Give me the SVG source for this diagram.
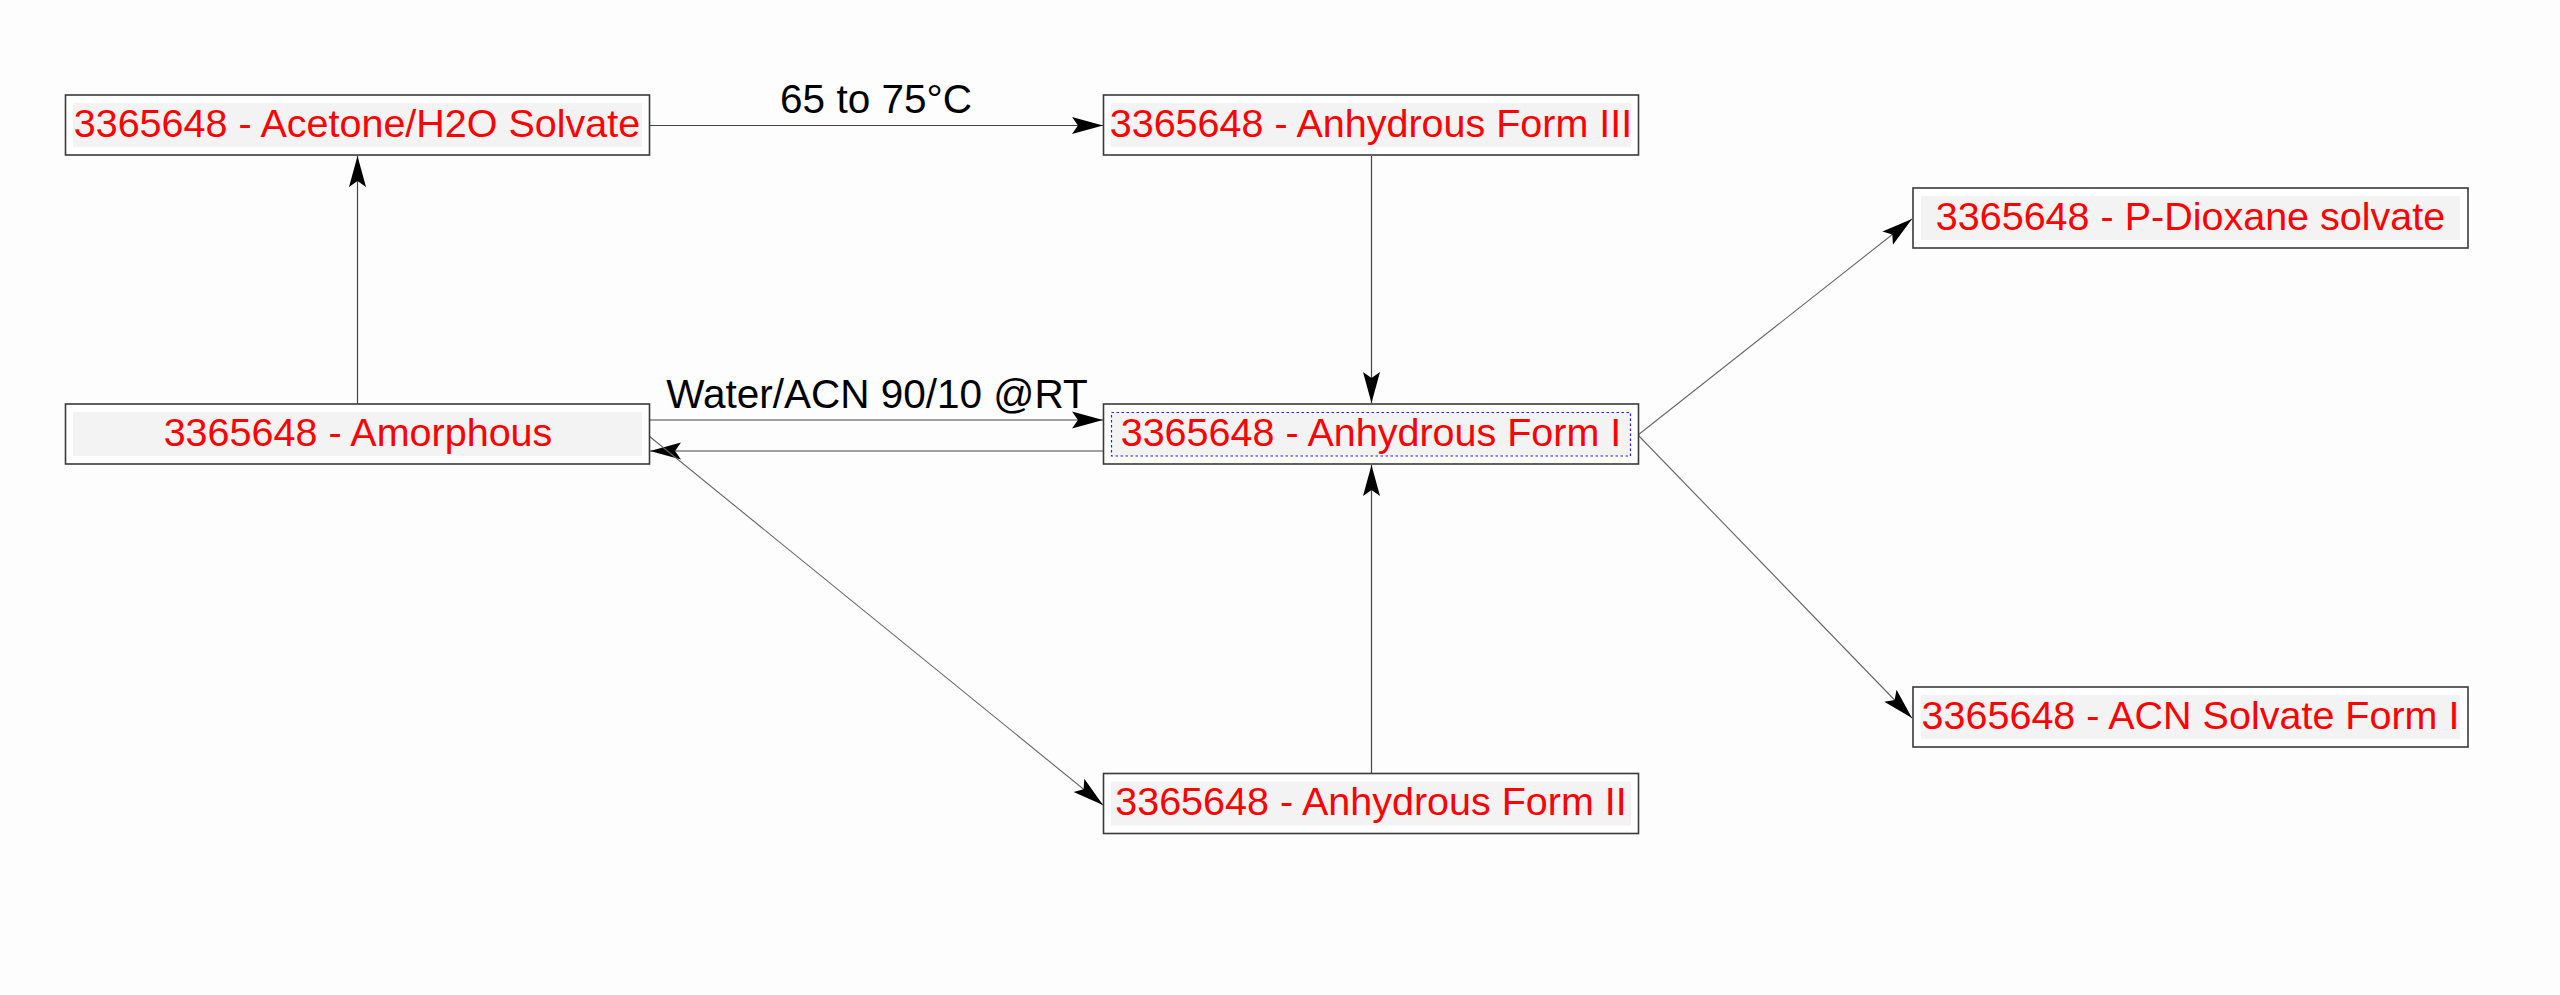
<svg xmlns="http://www.w3.org/2000/svg" width="2560" height="995" viewBox="0 0 2560 995">
<style>
.box{fill:#ffffff;stroke:#3a3a3a;stroke-width:1.6}
.inner{fill:#f3f3f3;stroke:none}
.focus{fill:none;stroke:#2020ff;stroke-width:1.2;stroke-dasharray:2.5 2.5}
.lbl{font-family:"Liberation Sans",Arial,sans-serif;font-size:39.5px;fill:#ff0000;text-anchor:middle}
.elbl{font-family:"Liberation Sans",Arial,sans-serif;font-size:40.5px;fill:#000000;text-anchor:middle}
.edge{fill:none;stroke:#444444;stroke-width:1.2}
.diag{fill:none;stroke:#666666;stroke-width:1.1}
</style>
<defs>
<marker id="arr" markerUnits="userSpaceOnUse" viewBox="-32 -9 33 18" markerWidth="33" markerHeight="18" refX="0" refY="0" orient="auto">
<path d="M0,0 L-31,-8.5 L-25,0 L-31,8.5 Z" fill="#000000"/>
</marker>
</defs>
<rect x="0" y="0" width="2560" height="995" fill="#fdfdfd"/>
<g id="connectors">
<line class="edge" x1="649" y1="125.5" x2="1103" y2="125.5" marker-end="url(#arr)"/>
<text class="elbl" x="876" y="113">65 to 75°C</text>
<line class="edge" x1="357.5" y1="404" x2="357.5" y2="156" marker-end="url(#arr)"/>
<line class="edge" x1="649" y1="420" x2="1103" y2="420" marker-end="url(#arr)"/>
<text class="elbl" x="877" y="408">Water/ACN 90/10 @RT</text>
<line class="edge" x1="1103" y1="451" x2="650" y2="451" marker-end="url(#arr)"/>
<line class="edge" x1="1371.5" y1="156" x2="1371.5" y2="403" marker-end="url(#arr)"/>
<line class="edge" x1="1371.5" y1="773" x2="1371.5" y2="465" marker-end="url(#arr)"/>
<line class="diag" x1="1638" y1="435" x2="1912" y2="219" marker-end="url(#arr)"/>
<line class="diag" x1="1638" y1="435" x2="1912" y2="718" marker-end="url(#arr)"/>
<line class="diag" x1="649" y1="436" x2="1103" y2="805" marker-end="url(#arr)"/>
</g>
<g id="n-acetone">
<rect class="box" x="65.5" y="95" width="584" height="60"/>
<rect class="inner" x="73" y="103" width="569" height="44"/>
<text class="lbl" x="357" y="137">3365648 - Acetone/H2O Solvate</text>
</g>
<g id="n-form3">
<rect class="box" x="1103.5" y="95" width="535" height="60"/>
<rect class="inner" x="1111" y="103" width="520" height="44"/>
<text class="lbl" x="1371" y="137">3365648 - Anhydrous Form III</text>
</g>
<g id="n-amorphous">
<rect class="box" x="65.5" y="404" width="584" height="60"/>
<rect class="inner" x="73" y="412" width="569" height="44"/>
<text class="lbl" x="358" y="446">3365648 - Amorphous</text>
</g>
<g id="n-form1">
<rect class="box" x="1103.5" y="404" width="535" height="60"/>
<rect class="inner" x="1111" y="412" width="520" height="44"/>
<rect class="focus" x="1111.5" y="412.5" width="519" height="43.5"/>
<text class="lbl" x="1371" y="446">3365648 - Anhydrous Form I</text>
</g>
<g id="n-form2">
<rect class="box" x="1103.5" y="773.5" width="535" height="60"/>
<rect class="inner" x="1111" y="781.5" width="520" height="44"/>
<text class="lbl" x="1371" y="815">3365648 - Anhydrous Form II</text>
</g>
<g id="n-dioxane">
<rect class="box" x="1913" y="188" width="555" height="60"/>
<rect class="inner" x="1921" y="196" width="539" height="44"/>
<text class="lbl" x="2190.5" y="230">3365648 - P-Dioxane solvate</text>
</g>
<g id="n-acn">
<rect class="box" x="1913" y="687" width="555" height="60"/>
<rect class="inner" x="1921" y="695" width="539" height="44"/>
<text class="lbl" x="2190.5" y="729">3365648 - ACN Solvate Form I</text>
</g>
</svg>
